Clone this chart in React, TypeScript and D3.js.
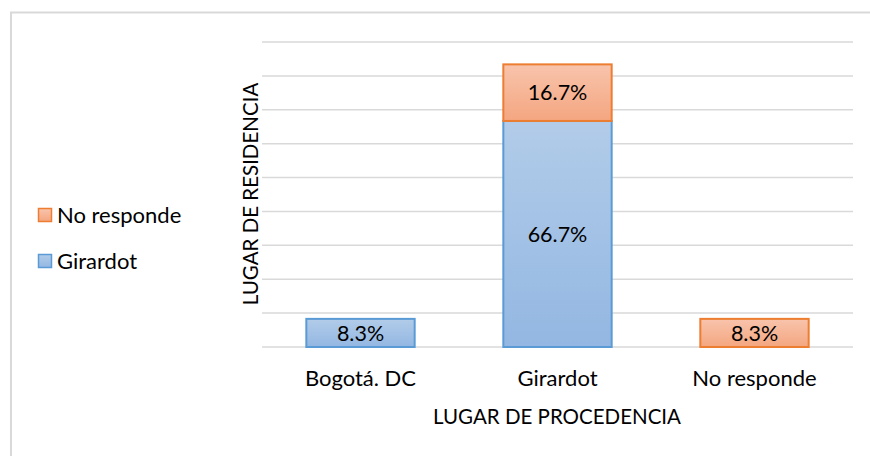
import * as d3 from "d3";
import React from "react";

const categories = ["Bogotá. DC", "Girardot", "No responde"];
const seriesNames = ["Girardot", "No responde"];
const girardotValues = [8.3, 66.7, 0];
const noRespondeValues = [0, 16.7, 8.3];
const yMax = 90;

const width = 870;
const height = 456;
const FONT = "Lato, 'Liberation Sans', sans-serif";

const colors = {
    "Girardot": { stroke: "#5b9bd5", top: "#b2cce9", bottom: "#93b7e2", id: "gradBlue" },
    "No responde": { stroke: "#ed7d31", top: "#f8c4ac", bottom: "#f4a680", id: "gradOrange" },
};

export default function App() {
    const xScale = d3
        .scaleBand()
        .domain(categories)
        .range([262, 853])
        .paddingInner(0.45)
        .paddingOuter(0.225);

    const yScale = d3.scaleLinear().domain([0, yMax]).range([347, 42]);

    const table = categories.map((c, i) => ({
        cat: c,
        "Girardot": girardotValues[i],
        "No responde": noRespondeValues[i],
    }));

    const stack = d3.stack().keys(seriesNames);
    const layers = stack(table);

    return (
        <div style={{ position: "absolute", left: 0, top: 0 }}>
            <svg width={width} height={height} style={{ display: "block", fontFamily: FONT }}>
                <defs>
                    {seriesNames.map((s) => (
                        <linearGradient key={s} id={colors[s].id} x1="0" x2="0" y1="0" y2="1">
                            <stop offset="0%" stopColor={colors[s].top} />
                            <stop offset="100%" stopColor={colors[s].bottom} />
                        </linearGradient>
                    ))}
                </defs>
                <rect x={0} y={0} width={width} height={height} fill="#fff" />
                <rect x={11} y={12.5} width={width + 20} height={height + 20} fill="none" stroke="#d9d9d9" strokeWidth={2} />

                {yScale.ticks(10).map((t) => (
                    <line key={t} x1={262} x2={853} y1={yScale(t)} y2={yScale(t)} stroke="#d9d9d9" strokeWidth={1.5} />
                ))}

                {layers.map((layer) => {
                    const s = layer.key;
                    return layer.map((d, i) => {
                        const v = d[1] - d[0];
                        if (!v) return null;
                        const x = xScale(d.data.cat);
                        const y0 = yScale(d[0]);
                        const y1 = yScale(d[1]);
                        return (
                            <g key={s + i}>
                                <rect
                                    x={x}
                                    y={y1}
                                    width={xScale.bandwidth()}
                                    height={y0 - y1}
                                    fill={`url(#${colors[s].id})`}
                                    stroke={colors[s].stroke}
                                    strokeWidth={2}
                                />
                                <text
                                    x={x + xScale.bandwidth() / 2}
                                    y={(y0 + y1) / 2}
                                    dy="0.36em"
                                    textAnchor="middle"
                                    fontSize={21.5}
                                    fill="#000"
                                >
                                    {v.toFixed(1) + "%"}
                                </text>
                            </g>
                        );
                    });
                })}

                {categories.map((c) => (
                    <text key={c} x={xScale(c) + xScale.bandwidth() / 2} y={386} textAnchor="middle" fontSize={22} fill="#000">
                        {c}
                    </text>
                ))}

                <text x={557} y={424} textAnchor="middle" fontSize={20.5} fill="#000">
                    LUGAR DE PROCEDENCIA
                </text>
                <text transform="translate(258,194) rotate(-90)" textAnchor="middle" fontSize={20.5} fill="#000">
                    LUGAR DE RESIDENCIA
                </text>

                {["No responde", "Girardot"].map((s, i) => (
                    <g key={s} transform={`translate(38, ${208 + i * 46})`}>
                        <rect x={0.5} y={0.5} width={13} height={13} fill={`url(#${colors[s].id})`} stroke={colors[s].stroke} strokeWidth={1.5} />
                        <text x={19} y={14.5} fontSize={22} fill="#000">
                            {s}
                        </text>
                    </g>
                ))}
            </svg>
        </div>
    );
}
